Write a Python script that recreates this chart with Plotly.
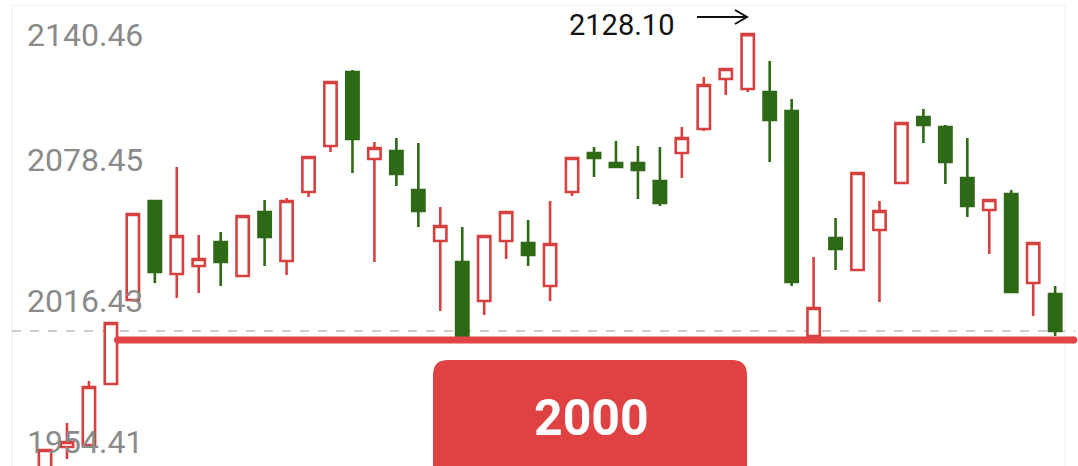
import plotly.graph_objects as go

# ---- data ----
idx = list(range(47))
opens = [1931.95, 1946.47, 1947.35, 1974.19, 2011.15, 2054.71, 2022.59, 2026.11, 2036.67, 2021.71,
         2049.87, 2028.31, 2058.67, 2078.91, 2111.47, 2073.19, 2076.71, 2059.55, 2037.11, 2027.87,
         2010.71, 2037.11, 2036.23, 2017.31, 2058.67, 2075.83, 2071.43, 2071.43, 2063.51, 2075.83,
         2086.39, 2108.39, 2103.99, 2102.67, 2094.31, 1995.31, 2038.43, 2024.35, 2041.95, 2062.63,
         2091.67, 2087.27, 2064.83, 2050.75, 2057.79, 2018.63, 2013.79]
highs = [1945.15, 1957.03, 1975.51, 2001.03, 2048.99, 2054.71, 2069.67, 2039.75, 2041.07, 2048.11,
         2055.15, 2056.03, 2074.07, 2107.07, 2112.35, 2080.67, 2082.43, 2080.23, 2052.07, 2043.27,
         2039.31, 2049.87, 2046.35, 2054.71, 2073.63, 2078.47, 2081.11, 2078.91, 2078.47, 2087.27,
         2109.27, 2112.79, 2128.10, 2116.31, 2099.59, 2030.07, 2047.23, 2067.03, 2054.71, 2089.03,
         2095.19, 2088.15, 2082.43, 2055.59, 2059.55, 2036.23, 2017.31]
lows = [1925.00, 1941.19, 1946.90, 1974.19, 2011.15, 2018.63, 2012.03, 2014.23, 2017.31, 2021.71,
        2026.11, 2022.15, 2056.47, 2076.27, 2067.03, 2027.87, 2061.31, 2043.27, 2006.31, 1993.55,
        2004.55, 2029.19, 2026.11, 2010.71, 2056.91, 2065.27, 2069.67, 2055.59, 2052.51, 2064.83,
        2085.51, 2101.35, 2102.67, 2071.87, 2017.31, 1995.31, 2024.35, 2024.35, 2010.27, 2062.63,
        2080.23, 2062.19, 2047.67, 2031.39, 2014.67, 2004.11, 1995.31]
closes = [1945.15, 1948.67, 1972.87, 2001.03, 2048.99, 2023.47, 2039.31, 2029.19, 2027.87, 2048.11,
          2038.87, 2054.71, 2074.07, 2107.07, 2081.99, 2078.03, 2066.59, 2050.31, 2043.71, 1994.87,
          2039.31, 2049.87, 2030.95, 2035.79, 2073.63, 2073.63, 2069.67, 2068.35, 2053.83, 2082.43,
          2105.75, 2112.79, 2128.10, 2090.35, 2019.07, 2007.63, 2033.59, 2067.03, 2050.31, 2089.03,
          2088.15, 2071.87, 2052.51, 2055.15, 2014.67, 2036.23, 1997.51]

axis_labels = ["2140.46", "2078.45", "2016.43", "1954.41"]
axis_values = [2140.46, 2078.45, 2016.43, 1954.41]
peak_label = "2128.10"
last_close = 1997.51
support_level = 1993.55
support_text = "2000"

RED = "#D8403F"
GREEN = "#2E6A16"

fig = go.Figure()

fig.add_trace(go.Candlestick(
    x=idx, open=opens, high=highs, low=lows, close=closes,
    increasing=dict(line=dict(color=RED, width=2.6), fillcolor="white"),
    decreasing=dict(line=dict(color=GREEN, width=2.6), fillcolor=GREEN),
    whiskerwidth=0, showlegend=False, hoverinfo="skip",
))

# support line with rounded ends
fig.add_trace(go.Scatter(
    x=[3.3, 46.85], y=[support_level, support_level], mode="lines+markers",
    line=dict(color="#E04444", width=7), marker=dict(color="#E04444", size=7),
    showlegend=False, hoverinfo="skip",
))

shapes = []
# faint frame
shapes.append(dict(type="rect", xref="paper", yref="paper", x0=12/1078, x1=1065/1078,
                   y0=-0.01, y1=1-5/466, line=dict(color="#EFEFEF", width=1), layer="below"))
# dashed last-close line
shapes.append(dict(type="line", xref="paper", yref="y", x0=12/1078, x1=1075/1078,
                   y0=last_close, y1=last_close, line=dict(color="#9A9A9A", width=1, dash="dash"),
                   layer="below"))
# rounded red box
W, H = 1078.0, 466.0
bx0, bx1, by0, by1 = 433/W, 747/W, 1-360/H, -0.05
rx, ry = 15/W, 15/H
path = (f"M {bx0+rx},{by0} L {bx1-rx},{by0} Q {bx1},{by0} {bx1},{by0-ry} "
        f"L {bx1},{by1} L {bx0},{by1} L {bx0},{by0-ry} Q {bx0},{by0} {bx0+rx},{by0} Z")
shapes.append(dict(type="path", xref="paper", yref="paper", path=path,
                   fillcolor="#E04142", line=dict(width=0)))
# arrow next to peak label
ax0, ax1, ay = 697/W, 747/W, 1-17/H
hx, hy = 12/W, 7/H
arrow = f"M {ax0},{ay} L {ax1},{ay} M {ax1-hx},{ay+hy} L {ax1},{ay} L {ax1-hx},{ay-hy}"
shapes.append(dict(type="path", xref="paper", yref="paper", path=arrow,
                   line=dict(color="#111111", width=2)))

annotations = []
shifts = [-29, -13, -13, -13]
for lab, val, sh in zip(axis_labels, axis_values, shifts):
    annotations.append(dict(xref="paper", yref="y", x=25/W, y=val, yshift=sh,
                            text=lab, showarrow=False, xanchor="left", yanchor="middle",
                            font=dict(family="Roboto", size=32, color="#8A8A8A")))
annotations.append(dict(xref="paper", yref="paper", x=621/W, y=1-25/H, text=peak_label,
                        showarrow=False, xanchor="center", yanchor="middle",
                        font=dict(family="Roboto", size=29, color="#111111")))
annotations.append(dict(xref="paper", yref="paper", x=591/W, y=1-418/H, text=f"<b>{support_text}</b>",
                        showarrow=False, xanchor="center", yanchor="middle",
                        font=dict(family="Roboto", size=50, color="white")))

fig.update_layout(
    width=1078, height=466,
    margin=dict(l=0, r=0, t=0, b=0),
    paper_bgcolor="white", plot_bgcolor="white",
    boxgap=0.2,
    xaxis=dict(range=[-2.05, 47.04], visible=False, rangeslider=dict(visible=False), fixedrange=True),
    yaxis=dict(range=[1938.12, 2143.13], visible=False, fixedrange=True),
    shapes=shapes, annotations=annotations,
    showlegend=False,
)

fig.write_html("out.html", config={"displayModeBar": False},
               post_script="document.body.style.margin='0';document.body.style.overflow='hidden';")
